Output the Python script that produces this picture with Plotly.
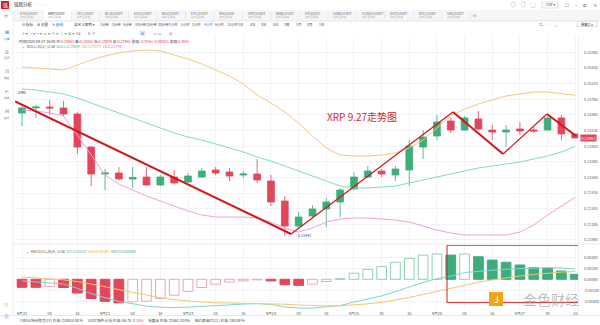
import plotly.graph_objects as go

W, H = 600, 325
FONT = "Noto Sans CJK SC, Noto Sans, DejaVu Sans, sans-serif"

# ---------------- data: XRP/USDT 4h candles, 2020-09-21 00:00 .. 2020-09-27 16:00 ----------------
opens = [0.24501, 0.24605, 0.24625, 0.24605, 0.24480, 0.23793, 0.23232, 0.23253, 0.23128, 0.23169,
         0.23003, 0.23169, 0.23065, 0.23169, 0.23315, 0.23273, 0.23211, 0.23232, 0.23086, 0.22670,
         0.22150, 0.22358, 0.22504, 0.22649, 0.22920, 0.23169, 0.23294, 0.23211, 0.23315, 0.23793,
         0.24022, 0.24334, 0.24147, 0.24376, 0.24147, 0.24105, 0.24168, 0.24147, 0.24147, 0.24397,
         0.24065]
highs = [0.24646, 0.24667, 0.24771, 0.24750, 0.24521, 0.23814, 0.23336, 0.23377, 0.23377, 0.23377,
         0.23211, 0.23315, 0.23253, 0.23357, 0.23377, 0.23357, 0.23294, 0.23544, 0.23211, 0.22774,
         0.22441, 0.22587, 0.22733, 0.22941, 0.23273, 0.23398, 0.23336, 0.23398, 0.23939, 0.24147,
         0.24459, 0.24397, 0.24438, 0.24542, 0.24251, 0.24251, 0.24313, 0.24209, 0.24438, 0.24459,
         0.24065]
lows = [0.24230, 0.24397, 0.24459, 0.24438, 0.23648, 0.22982, 0.22899, 0.23107, 0.22941, 0.22982,
        0.22982, 0.23024, 0.23045, 0.23149, 0.23211, 0.23086, 0.23149, 0.23045, 0.22566, 0.21943,
        0.22088, 0.22317, 0.22129, 0.22337, 0.22899, 0.23149, 0.23169, 0.23086, 0.22982, 0.23544,
        0.23939, 0.24085, 0.24126, 0.24147, 0.23939, 0.23793, 0.24043, 0.24085, 0.24126, 0.23939,
        0.23979]
closes = [0.24605, 0.24625, 0.24605, 0.24480, 0.23793, 0.23232, 0.23253, 0.23128, 0.23159, 0.23003,
          0.23169, 0.23045, 0.23190, 0.23294, 0.23253, 0.23190, 0.23232, 0.23107, 0.22649, 0.22150,
          0.22337, 0.22504, 0.22649, 0.22899, 0.23169, 0.23294, 0.23232, 0.23336, 0.23814, 0.24001,
          0.24313, 0.24147, 0.24397, 0.24168, 0.24105, 0.24147, 0.24126, 0.24126, 0.24397, 0.24066,
          0.23981]

# Bollinger bands (20, 2)
boll_upper = [0.25457, 0.25437, 0.25416, 0.25395, 0.25499, 0.25603, 0.25686, 0.25749, 0.25790, 0.25811,
              0.25790, 0.25707, 0.25624, 0.25520, 0.25395, 0.25270, 0.25104, 0.24875, 0.24709, 0.24521,
              0.24293, 0.24022, 0.23773, 0.23627, 0.23606, 0.23606, 0.23627, 0.23669, 0.23773, 0.23939,
              0.24189, 0.24438, 0.24584, 0.24688, 0.24771, 0.24854, 0.24896, 0.24937, 0.24937, 0.24896,
              0.24870]
boll_mid = [0.24999, 0.24979, 0.24937, 0.24896, 0.24813, 0.24709, 0.24605, 0.24501, 0.24397, 0.24293,
            0.24189, 0.24085, 0.24001, 0.23939, 0.23856, 0.23773, 0.23690, 0.23585, 0.23502, 0.23398,
            0.23294, 0.23190, 0.23086, 0.22982, 0.22941, 0.22941, 0.22961, 0.22982, 0.23045, 0.23107,
            0.23169, 0.23232, 0.23294, 0.23357, 0.23398, 0.23440, 0.23481, 0.23544, 0.23606, 0.23690,
            0.23809]
boll_lower = [0.24563, 0.24542, 0.24501, 0.24438, 0.24043, 0.23627, 0.23211, 0.23024, 0.22899, 0.22774,
              0.22670, 0.22566, 0.22462, 0.22379, 0.22337, 0.22337, 0.22337, 0.22317, 0.22233, 0.22109,
              0.22025, 0.22109, 0.22233, 0.22296, 0.22317, 0.22317, 0.22296, 0.22275, 0.22233, 0.22150,
              0.22067, 0.22005, 0.21963, 0.21963, 0.21963, 0.21963, 0.22025, 0.22171, 0.22379, 0.22566,
              0.22748]

# MACD (12, 26, 9)
macd_hist = [-0.00146, -0.00146, -0.00130, -0.00150, -0.00250, -0.00350, -0.00400, -0.00430, -0.00410, -0.00400,
             -0.00350, -0.00290, -0.00220, -0.00150, -0.00090, -0.00050, -0.00030, -0.00010, -0.00030, -0.00100,
             -0.00110, -0.00090, -0.00040, 0.00010, 0.00110, 0.00180, 0.00230, 0.00310, 0.00380, 0.00440,
             0.00460, 0.00440, 0.00460, 0.00410, 0.00350, 0.00310, 0.00260, 0.00210, 0.00200, 0.00150,
             0.00089]
macd_dif = [-0.00030, -0.00048, -0.00056, -0.00085, -0.00166, -0.00260, -0.00335, -0.00404, -0.00445, -0.00490,
            -0.00509, -0.00515, -0.00507, -0.00491, -0.00472, -0.00458, -0.00452, -0.00443, -0.00457, -0.00504,
            -0.00523, -0.00524, -0.00504, -0.00478, -0.00414, -0.00357, -0.00303, -0.00224, -0.00141, -0.00056,
            0.00011, 0.00056, 0.00124, 0.00150, 0.00164, 0.00183, 0.00191, 0.00192, 0.00212, 0.00206,
            0.00187]
macd_dea = [0.00043, 0.00025, 0.00009, -0.00010, -0.00041, -0.00085, -0.00135, -0.00189, -0.00240, -0.00290,
            -0.00334, -0.00370, -0.00397, -0.00416, -0.00427, -0.00433, -0.00437, -0.00438, -0.00442, -0.00454,
            -0.00468, -0.00479, -0.00484, -0.00483, -0.00469, -0.00447, -0.00418, -0.00379, -0.00331, -0.00276,
            -0.00219, -0.00164, -0.00106, -0.00055, -0.00011, 0.00028, 0.00061, 0.00087, 0.00112, 0.00131,
            0.00142]

# axis labels
time_labels = ["9月21", "08", "16", "9月22", "08", "16", "9月23", "08", "16", "9月24", "08", "16",
               "9月25", "08", "16", "9月26", "08", "16", "9月27", "08", "16"]
price_ticks = [0.21860, 0.22185, 0.22510, 0.22835, 0.23160, 0.23485, 0.23810, 0.24135,
               0.24460, 0.24785, 0.25110, 0.25435, 0.25760]
macd_ticks = [-0.004, -0.002, 0.0, 0.002, 0.004]

# hand-drawn trend lines: (bar index, price)
trend_points = [(-0.5, 0.24742), (19.45, 0.21984), (31.16, 0.24521), (34.78, 0.23648),
                (37.96, 0.24480), (40.06, 0.24022)]
trend_widths = [2.0, 1.2, 2.0, 1.2, 2.0]

pairs = ["ETH/USDT", "XRP/USDT", "LTC/USDT", "BCH/USDT", "EOS/USDT", "BSV/USDT", "ETC/USDT", "XAU/USD",
         "OKT/USDT", "BNB/USDT", "HT/USDT", "LINK/USDT", "SUSHI/USDT", "DOT/USDT", "BTC/USDT", "UNI/USDT"]
periods = ["1分钟", "3分钟", "5分钟", "10分钟", "15分钟", "30分钟", "1小时", "2小时", "3小时", "4小时",
           "6小时", "12小时", "1日", "2日", "3日", "5日", "1周", "1月", "3月", "1年"]

# ---------------- colours ----------------
UP, DOWN = "#3dad7a", "#e2465a"
UP_HOLLOW, DOWN_HOLLOW = "#8fd2b1", "#eda7b0"
C_UB, C_MID, C_LB = "#f6c97a", "#86d9c9", "#eea3d9"
C_DIF, C_DEA = "#7fd6cb", "#f3c674"
TREND = "#d0161b"
GRID = "#f1f3f6"
R = "#e2465a"


def px(x):
    return x / W


def py(y):
    return 1 - y / H


n = len(closes)
bar_x = list(range(n))
tick_idx = list(range(0, n, 2))

fig = go.Figure()

fig.add_trace(go.Candlestick(
    x=bar_x, open=opens, high=highs, low=lows, close=closes,
    increasing=dict(line=dict(color=UP, width=0.8), fillcolor=UP),
    decreasing=dict(line=dict(color=DOWN, width=0.8), fillcolor=DOWN),
    whiskerwidth=0, showlegend=False, hoverinfo="skip", xaxis="x", yaxis="y"))

for series, col in ((boll_upper, C_UB), (boll_mid, C_MID), (boll_lower, C_LB)):
    fig.add_trace(go.Scatter(x=bar_x, y=series, mode="lines", line=dict(color=col, width=1),
                             showlegend=False, hoverinfo="skip", xaxis="x", yaxis="y"))

# MACD histogram: solid when the bar grows away from zero, hollow when it shrinks back
fills, outlines = [], []
for i, h in enumerate(macd_hist):
    prev = macd_hist[i - 1] if i else None
    if h < 0:
        solid = prev is None or h <= prev
        fills.append(DOWN if solid else "white")
        outlines.append(DOWN if solid else DOWN_HOLLOW)
    else:
        hollow = prev is None or h >= prev
        fills.append("white" if hollow else UP)
        outlines.append(UP_HOLLOW if hollow else UP)
fig.add_trace(go.Bar(x=bar_x, y=macd_hist, width=0.7, marker=dict(color=fills, line=dict(color=outlines, width=1)),
                     showlegend=False, hoverinfo="skip", xaxis="x2", yaxis="y2"))
fig.add_trace(go.Scatter(x=bar_x, y=macd_dif, mode="lines", line=dict(color=C_DIF, width=1),
                         showlegend=False, hoverinfo="skip", xaxis="x2", yaxis="y2"))
fig.add_trace(go.Scatter(x=bar_x, y=macd_dea, mode="lines", line=dict(color=C_DEA, width=1),
                         showlegend=False, hoverinfo="skip", xaxis="x2", yaxis="y2"))

shapes = []
annots = []


def rect(x0, y0, x1, y1, fill, line=None, lw=0, layer="below"):
    shapes.append(dict(type="rect", xref="paper", yref="paper", x0=px(x0), x1=px(x1), y0=py(y1), y1=py(y0),
                       fillcolor=fill, line=dict(color=line or fill, width=lw), layer=layer))


def hline(y, x0=0, x1=W, color="#e6e8ec", lw=1):
    shapes.append(dict(type="line", xref="paper", yref="paper", x0=px(x0), x1=px(x1), y0=py(y), y1=py(y),
                       line=dict(color=color, width=lw), layer="above"))


def vline(x, y0, y1, color="#e6e8ec", lw=1):
    shapes.append(dict(type="line", xref="paper", yref="paper", x0=px(x), x1=px(x), y0=py(y0), y1=py(y1),
                       line=dict(color=color, width=lw), layer="above"))


def text(x, y, s, size=3.8, color="#555", anchor="left", **kw):
    annots.append(dict(x=px(x), y=py(y), xref="paper", yref="paper", text=s, showarrow=False,
                       xanchor=anchor, yanchor="middle", font=dict(size=size, color=color, family=FONT), **kw))


def red(s):
    return f"<span style='color:{R}'>{s}</span>"


# ---- window chrome ----
rect(0, 0, W, 10, "white")
rect(1, 1, 9, 9, "#c8232c")
text(5, 5, "链", 5, "white", "center")
text(12, 5, "链路分析", 4.5, "#333")
for cx in (37, 41.5, 46):
    text(cx, 5, "◯", 3.5, "#bbb", "center")
for cx, s in ((513, "◌"), (523, "◯"), (533, "▢")):
    text(cx, 5, s, 4.5, "#666", "center")
rect(542, 2, 558, 8, "white", "#ccc", 0.6)
text(550, 5, "CNY ▾", 3.5, "#444", "center")
for cx, s in ((567, "☐"), (576, "–"), (585, "⧉"), (595, "×")):
    text(cx, 5, s, 4.5, "#555", "center")

# pair tabs
rect(13, 10, W, 21, "#f5f6f8")
hline(21, 13, W, "#e3e5ea")
rect(43, 10, 71.5, 21, "white")
for i, p in enumerate(pairs):
    x0 = 17.5 + i * 28.5
    text(x0, 13.3, p, 3.6, "#333" if i == 1 else "#666")
    text(x0, 17.2, "火币全球站", 2.6, "#aaa")
    vline(x0 + 25.5, 11.5, 19.5, "#e1e3e8", 0.6)
text(474, 15, "⊞", 4, "#aaa", "center")

# toolbar rows
text(20, 24, "⊟ 指标", 3.6, "#444")
text(35, 24, "⚙ 设置", 3.6, "#444")
text(50, 24, "✎ 画线", 3.6, "#2f6fe0")
text(72, 24, "自定义周期 ▾", 3.6, "#444")
for i, p in enumerate(periods):
    text(98 + i * 11.5, 24, p, 3.4, "#2f6fe0" if p == "4小时" else "#444")
text(548, 24, "⇆  ⋮⋮  ▢", 3.8, "#666", "center")
rect(577, 21.5, 597, 26.5, "white", "#c8c8c8", 0.6)
text(587, 24, "单窗口 ▾", 3.2, "#333", "center")
text(20, 33, "✛ ▾  ⟋ ▾  ⌖ ▾  ▭ ▾  ≡ ▾  ⌇ ▾  ⊞ ▾  Aa  ⬚  ✎  ⛛", 3.8, "#777")
rect(139.5, 30.5, 145.5, 35.5, "#dbe8ff")
text(142.5, 33, "⊞", 3.6, "#2f6fe0", "center")
text(152, 33, "⌂  ▭  ⬚  ⚙", 3.8, "#777")

# left sidebar
vline(13, 10, 316, "#e6e8ec", 0.8)
for yy, s, lab, col in ((15, "⟳", "", "#888"), (31, "⊞", "分屏", "#2f6fe0"), (51, "⧉", "图层", "#888"),
                         (70, "⊡", "模板", "#888"), (90, "⇤", "快照", "#888"), (110, "⊟", "指标", "#888")):
    text(6.5, yy, s, 5, col, "center")
    if lab:
        text(6.5, yy + 7.5, lab, 2.8, col, "center")
text(6.5, 303, "◷", 5, "#f0a020", "center")
text(6.5, 315, "⊕", 5, "#999", "center")

# info line and indicator legends
info = (f"时间2020-09-27 16:00 开:{red('0.24065')} 高:{red('0.24065')} 低:{red('0.23979')} "
        f"收:{red('0.23981')} 涨幅:{red('-0.35%(-0.00085)')} 振幅:{red('0.36%')}")
text(17, 41.5, info, 3.7, "#444")
boll_leg = ("⌄  BOLL(20,2)  ⊡ ⊠  <span style='color:#3dbf98'>BOLL:0.23809</span>  "
            "<span style='color:#f0a830'>UB:0.24870</span>  <span style='color:#e070c0'>LB:0.22748</span>")
text(20, 47, boll_leg, 3.7, "#555")
macd_leg = ("⌄  MACD(12,26,9)  ⊡ ⊠  <span style='color:#3dbf98'>DIF:0.00187</span>  "
            "<span style='color:#f0a830'>DEA:0.00142</span>  <span style='color:#3dad7a'>MACD:0.00089</span>")
text(24, 251, macd_leg, 3.7, "#555")

# panel separators
hline(244, 13, W, "#e3e5ea", 0.8)
vline(578.5, 37, 316, "#e8eaee", 0.8)
hline(315.5, 0, W, "#e3e5ea", 0.8)

# status bar
status = (f"CME比特币期货(CF) 价格: $10814.00 %      USDT场外:火币 价格: ¥6.78 {red('-0.15%')}"
          f"      纸黄金 价格: $1861.20 0%      纽约原油07(CL) 价格: $40.09 %")
text(18, 320, status, 3.6, "#444")

# drawn trend lines on the price panel
for (xa, ya), (xb, yb), lw in zip(trend_points[:-1], trend_points[1:], trend_widths):
    shapes.append(dict(type="line", xref="x", yref="y", x0=xa, y0=ya, x1=xb, y1=yb,
                       line=dict(color=TREND, width=lw), layer="above"))
annots.append(dict(x=trend_points[0][0] + 0.05, y=trend_points[0][1], xref="x", yref="y", text="2495",
                   showarrow=False, xanchor="left", yanchor="bottom", yshift=4,
                   font=dict(size=3.5, color="#333", family=FONT)))
annots.append(dict(x=19.65, y=min(lows), xref="x", yref="y", text="- " + f"{min(lows):.5f}",
                   showarrow=False, xanchor="left", yanchor="middle",
                   font=dict(size=3.6, color="#444", family=FONT)))
annots.append(dict(x=21.9, y=0.24438, xref="x", yref="y", text="XRP 9.27走势图", showarrow=False,
                   xanchor="left", yanchor="middle", font=dict(size=10, color="#d42a2a", family=FONT)))

# last price tag
annots.append(dict(x=px(579.5), y=closes[-1], xref="paper", yref="y", text=f"{closes[-1]:.5f}",
                   showarrow=False, xanchor="left", yanchor="middle", bgcolor="#e2465a",
                   borderpad=0.6, font=dict(size=3.8, color="white", family=FONT)))

# highlighted zone on the MACD panel
shapes.append(dict(type="rect", xref="x2", yref="y2", x0=30.73, x1=40.27, y0=-0.00425, y1=0.0062,
                   line=dict(color="#c0282d", width=1), fillcolor="rgba(0,0,0,0)", layer="above"))

# watermark
rect(489, 292, 503, 306, "#f2a516", layer="above")
text(496, 299, "J", 9, "white", "center")
text(551, 298.5, "金色财经", 14, "rgba(170,170,170,0.75)", "center")

main_dom = [py(243), py(37)]
macd_dom = [py(309), py(245)]
x_dom = [px(15), px(578)]
x_rng = [-0.51, 40.2]

fig.update_layout(
    width=W, height=H, margin=dict(l=0, r=0, t=0, b=0),
    paper_bgcolor="white", plot_bgcolor="white", font=dict(family=FONT),
    shapes=shapes, annotations=annots, bargap=0.3, showlegend=False,
    xaxis=dict(domain=x_dom, range=x_rng, anchor="y", tickvals=tick_idx, showticklabels=False,
               showgrid=True, gridcolor=GRID, gridwidth=1, zeroline=False, rangeslider=dict(visible=False),
               ticks="", fixedrange=True),
    yaxis=dict(domain=main_dom, range=[0.21797, 0.26081], anchor="x", side="right", tickvals=price_ticks,
               ticktext=[f"{v:.5f}" for v in price_ticks], tickfont=dict(size=3.8, color="#555"),
               showgrid=True, gridcolor=GRID, zeroline=False, ticks="", ticklabelstandoff=5, fixedrange=True),
    xaxis2=dict(domain=x_dom, range=x_rng, anchor="y2", tickvals=tick_idx, ticktext=time_labels,
                tickfont=dict(size=3.8, color="#555"), showgrid=True, gridcolor=GRID, zeroline=False,
                ticks="", ticklabelstandoff=1, fixedrange=True, matches="x"),
    yaxis2=dict(domain=macd_dom, range=[-0.00541, 0.00624], anchor="x2", side="right", tickvals=macd_ticks,
                ticktext=[f"{v:.5f}" for v in macd_ticks], tickfont=dict(size=3.8, color="#555"),
                showgrid=True, gridcolor=GRID, zeroline=False, ticks="", ticklabelstandoff=5, fixedrange=True),
)

fig.write_html("out.html", config=dict(displayModeBar=False))
